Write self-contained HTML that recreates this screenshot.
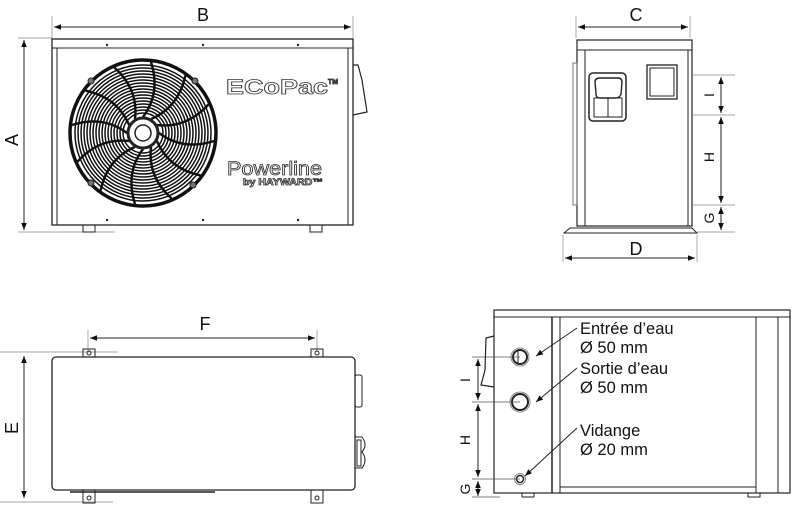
<!DOCTYPE html>
<html><head><meta charset="utf-8"><style>
html,body{margin:0;padding:0;background:#fff}
svg{display:block}
text{font-family:"Liberation Sans",Arial,sans-serif}
</style></head><body>
<svg width="800" height="511" viewBox="0 0 800 511" xmlns="http://www.w3.org/2000/svg">
<defs>
<marker id="ar" viewBox="0 0 10 10" refX="10" refY="5" markerWidth="7" markerHeight="7" orient="auto-start-reverse"><path d="M0,1 L10,5 L0,9 z" fill="#111"/></marker>
<g id="spoke"><path d="M0,-16 Q18,-40 8,-71" fill="none" stroke="#111" stroke-width="2.4"/></g>
</defs>
<g stroke="#222" fill="none" stroke-width="1">
<!-- FRONT VIEW -->
<line x1="52" y1="16" x2="52" y2="38" stroke="#888" stroke-width="0.7"/>
<line x1="353" y1="16" x2="353" y2="38" stroke="#888" stroke-width="0.7"/>
<line x1="54" y1="27" x2="351" y2="27" marker-start="url(#ar)" marker-end="url(#ar)"/>
<line x1="18" y1="38" x2="52" y2="38" stroke="#888" stroke-width="0.7"/>
<line x1="18" y1="232" x2="115" y2="232" stroke="#888" stroke-width="0.7"/>
<line x1="24" y1="40" x2="24" y2="230" marker-start="url(#ar)" marker-end="url(#ar)"/>
<rect x="52" y="39" width="301" height="186" stroke-width="1.3"/>
<line x1="52" y1="48" x2="353" y2="48"/>
<line x1="57" y1="48" x2="57" y2="225"/>
<line x1="348" y1="48" x2="348" y2="225"/>
<rect x="83" y="225" width="12" height="7"/><rect x="310" y="225" width="12" height="7"/>
<path d="M353,65 L358,65 L362,80 L367,112 L353,115" stroke-width="1.2"/>
<g fill="#222" stroke="none">
<circle cx="107" cy="45" r="1.2"/><circle cx="203" cy="45" r="1.2"/><circle cx="298" cy="45" r="1.2"/>
<circle cx="107" cy="220" r="1.2"/><circle cx="203" cy="220" r="1.2"/><circle cx="298" cy="220" r="1.2"/>
</g>
<!-- fan -->
<g transform="translate(143,133)">
<circle r="73" stroke-width="3.5" stroke="#111"/>
<g stroke-width="1.5" stroke="#111">
<circle r="68"/><circle r="65"/><circle r="62"/><circle r="59"/><circle r="56"/><circle r="53"/><circle r="50"/><circle r="47"/><circle r="44"/><circle r="41"/><circle r="38"/><circle r="35"/><circle r="32"/><circle r="29"/><circle r="26"/><circle r="23"/><circle r="20"/>
</g>
<use href="#spoke"/><use href="#spoke" transform="rotate(30)"/><use href="#spoke" transform="rotate(60)"/><use href="#spoke" transform="rotate(90)"/><use href="#spoke" transform="rotate(120)"/><use href="#spoke" transform="rotate(150)"/><use href="#spoke" transform="rotate(180)"/><use href="#spoke" transform="rotate(210)"/><use href="#spoke" transform="rotate(240)"/><use href="#spoke" transform="rotate(270)"/><use href="#spoke" transform="rotate(300)"/><use href="#spoke" transform="rotate(330)"/>
<circle r="15" fill="#fff" stroke-width="3"/><circle r="8" stroke-width="1.5"/>
<circle cx="-52" cy="-52" r="3" fill="#777"/><circle cx="52" cy="-52" r="3" fill="#777"/><circle cx="-52" cy="50" r="3" fill="#777"/><circle cx="50" cy="52" r="3" fill="#777"/>
</g>
<!-- SIDE VIEW -->
<line x1="576" y1="16" x2="576" y2="38" stroke="#888" stroke-width="0.7"/>
<line x1="690" y1="16" x2="690" y2="38" stroke="#888" stroke-width="0.7"/>
<line x1="578" y1="27" x2="688" y2="27" marker-start="url(#ar)" marker-end="url(#ar)"/>
<rect x="577" y="40" width="115" height="186" stroke-width="1.2"/>
<line x1="577" y1="50" x2="692" y2="50"/>
<line x1="585" y1="50" x2="585" y2="226"/><line x1="688" y1="50" x2="688" y2="226"/>
<rect x="573" y="63" width="4" height="142" stroke="#777"/>
<rect x="589" y="73" width="37" height="48" rx="4" stroke-width="1.5"/>
<path d="M595,82 Q595,78 600,78 L618,78 Q622,78 622,82 L621,94 Q620,98 615,98 L600,98 Q596,98 596,94 Z" stroke-width="1.4"/>
<rect x="594" y="98" width="28" height="19"/><line x1="608" y1="98" x2="608" y2="117"/>
<rect x="647" y="65" width="30" height="34" stroke-width="1.3"/><rect x="650" y="68" width="24" height="28"/>
<path d="M564,233 L570,228 L692,228 L697,233 Z"/>
<line x1="563" y1="235" x2="563" y2="262" stroke="#888" stroke-width="0.7"/>
<line x1="697" y1="235" x2="697" y2="262" stroke="#888" stroke-width="0.7"/>
<line x1="565" y1="258" x2="695" y2="258" marker-start="url(#ar)" marker-end="url(#ar)"/>
<g stroke="#888" stroke-width="0.7"><line x1="692" y1="75" x2="735" y2="75"/><line x1="692" y1="115" x2="735" y2="115"/><line x1="692" y1="205" x2="735" y2="205"/><line x1="697" y1="232" x2="735" y2="232"/></g>
<line x1="721" y1="77" x2="721" y2="113" marker-start="url(#ar)" marker-end="url(#ar)"/>
<line x1="721" y1="117" x2="721" y2="203" marker-start="url(#ar)" marker-end="url(#ar)"/>
<line x1="721" y1="207" x2="721" y2="230" marker-start="url(#ar)" marker-end="url(#ar)"/>
<!-- TOP VIEW -->
<line x1="88" y1="330" x2="88" y2="352" stroke="#888" stroke-width="0.7"/>
<line x1="317" y1="330" x2="317" y2="352" stroke="#888" stroke-width="0.7"/>
<line x1="90" y1="338" x2="315" y2="338" marker-start="url(#ar)" marker-end="url(#ar)"/>
<line x1="0" y1="352" x2="118" y2="352" stroke="#888" stroke-width="0.7"/>
<line x1="0" y1="502" x2="113" y2="502" stroke="#888" stroke-width="0.7"/>
<line x1="24" y1="356" x2="24" y2="498" marker-start="url(#ar)" marker-end="url(#ar)"/>
<rect x="52" y="357" width="303" height="133" rx="4" stroke-width="1.3"/>
<rect x="83" y="349" width="12" height="8"/><circle cx="89" cy="353" r="2"/>
<rect x="311" y="349" width="12" height="8"/><circle cx="317" cy="353" r="2"/>
<rect x="83" y="490" width="12" height="13"/><circle cx="89" cy="498" r="2"/>
<rect x="311" y="490" width="12" height="13"/><circle cx="317" cy="498" r="2"/>
<line x1="70" y1="492" x2="215" y2="492" stroke-width="1.5"/>
<rect x="355" y="375" width="7" height="32" rx="2"/>
<path d="M355,437 L362,437 Q368,445 362,452 Q368,460 362,468 L355,468"/><rect x="357" y="440" width="4" height="26"/>
<!-- BACK VIEW -->
<rect x="494" y="310" width="296" height="183" stroke-width="1.2"/>
<line x1="494" y1="317" x2="790" y2="317"/>
<line x1="552" y1="317" x2="552" y2="493" stroke-width="1.5"/>
<line x1="560" y1="317" x2="560" y2="493"/><line x1="756" y1="317" x2="756" y2="493"/><line x1="778" y1="317" x2="778" y2="493"/>
<line x1="560" y1="487" x2="756" y2="487"/>
<rect x="522" y="493" width="12" height="4"/><rect x="748" y="493" width="12" height="4"/>
<path d="M494,336 L486,338 L485,370 L481,385 L494,387" stroke-width="1.2"/>
<circle cx="520" cy="357" r="7" stroke-width="2"/><circle cx="520" cy="357" r="9" stroke="#888"/><line x1="518" y1="351" x2="518" y2="363"/>
<circle cx="520" cy="402" r="8" stroke-width="2"/><circle cx="520" cy="402" r="10" stroke="#888"/>
<circle cx="520" cy="479" r="3.5" stroke-width="1.5"/><circle cx="520" cy="479" r="5.5" stroke="#888"/>
<line x1="577" y1="328" x2="536" y2="356" marker-end="url(#ar)"/>
<line x1="577" y1="368" x2="536" y2="402" marker-end="url(#ar)"/>
<line x1="577" y1="428" x2="525" y2="476" marker-end="url(#ar)"/>
<g stroke="#555" stroke-width="0.8"><line x1="472" y1="357" x2="520" y2="357"/><line x1="472" y1="402" x2="520" y2="402"/><line x1="472" y1="479" x2="520" y2="479"/><line x1="472" y1="497" x2="500" y2="497"/></g>
<line x1="478" y1="359" x2="478" y2="400" marker-start="url(#ar)" marker-end="url(#ar)"/>
<line x1="478" y1="404" x2="478" y2="477" marker-start="url(#ar)" marker-end="url(#ar)"/>
<line x1="478" y1="481" x2="478" y2="496" marker-start="url(#ar)" marker-end="url(#ar)"/>
</g>
<g fill="#111" font-size="18">
<text x="203" y="21" text-anchor="middle">B</text>
<text x="636" y="21" text-anchor="middle">C</text>
<text x="636" y="255" text-anchor="middle">D</text>
<text x="205" y="330" text-anchor="middle">F</text>
<text transform="translate(18,140) rotate(-90)" text-anchor="middle">A</text>
<text transform="translate(18,428) rotate(-90)" text-anchor="middle">E</text>
<g font-size="14">
<text transform="translate(714,95) rotate(-90)" text-anchor="middle">I</text>
<text transform="translate(714,157) rotate(-90)" text-anchor="middle">H</text>
<text transform="translate(714,218) rotate(-90)" text-anchor="middle">G</text>
<text transform="translate(470,380) rotate(-90)" text-anchor="middle">I</text>
<text transform="translate(470,440) rotate(-90)" text-anchor="middle">H</text>
<text transform="translate(470,489) rotate(-90)" text-anchor="middle">G</text>
</g>
<g font-size="16.5">
<text x="580" y="334">Entrée d’eau</text><text x="580" y="353">Ø 50 mm</text>
<text x="580" y="374">Sortie d’eau</text><text x="580" y="393">Ø 50 mm</text>
<text x="580" y="436">Vidange</text><text x="580" y="455">Ø 20 mm</text>
</g>
</g>
<g fill="#fff" stroke="#333" stroke-width="0.8" font-weight="bold">
<text x="226" y="94" font-size="21" textLength="102" lengthAdjust="spacingAndGlyphs">ECoPac</text>
<text x="328" y="84" font-size="7">TM</text>
<text x="227" y="175" font-size="19" font-weight="normal" textLength="95" lengthAdjust="spacingAndGlyphs">Powerline</text>
<text x="243" y="185" font-size="9" textLength="80" lengthAdjust="spacingAndGlyphs">by HAYWARD™</text>
</g>
</svg>
</body></html>
